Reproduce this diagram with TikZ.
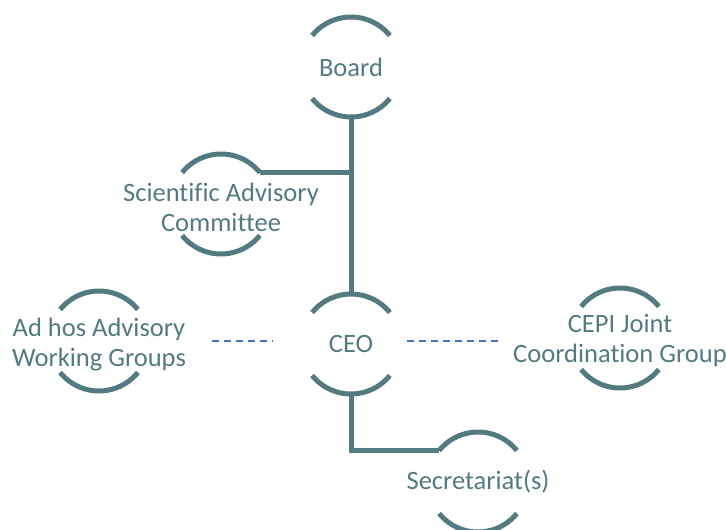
\documentclass[tikz,border=0pt]{standalone}
\usepackage{fontspec}
\setmainfont[Ligatures=CommonOff]{Carlito}
\usetikzlibrary{calc}
\definecolor{teal1}{HTML}{527A80}
\definecolor{dashblue}{HTML}{4472C4}
\tikzset{
  ring/.style={circle, minimum size=100pt, inner sep=0pt, draw=none},
  lbl/.style={text=teal1, font=\fontsize{26.5}{30}\selectfont, align=center, inner sep=0pt},
  arcline/.style={draw=teal1, line width=5pt},
  conn/.style={draw=teal1, line width=5pt},
  dashline/.style={draw=dashblue, line width=1.5pt, dash pattern=on 7pt off 5pt}
}
\newcommand\orgarcs[1]{%
  \draw[arcline] ([shift={(39:50pt)}]#1.center) arc[start angle=39, end angle=141, radius=50pt];
  \draw[arcline] ([shift={(-141:50pt)}]#1.center) arc[start angle=-141, end angle=-39, radius=50pt];
}
\begin{document}
\begin{tikzpicture}[x=1pt,y=-1pt]
\useasboundingbox (0,0) rectangle (726,530);
\node[ring] (board) at (351,67) {};
\node[ring] (sac) at (221,204) {};
\node[ring] (ceo) at (351,344) {};
\node[ring] (adh) at (99,341) {};
\node[ring] (cepi) at (620,338) {};
\node[ring] (sec) at (478,482) {};
\foreach \n in {board,sac,ceo,adh,cepi,sec}{\orgarcs{\n}}
\node[lbl] (boardt) at (board) {Board};
\node[lbl] (sact) at ([yshift=-3pt]sac.center) {Scientific Advisory\\Committee};
\node[lbl] (ceot) at (ceo) {CEO};
\node[lbl] (adht) at ([yshift=-4pt]adh.center) {Ad hos Advisory\\Working Groups};
\node[lbl] (cepit) at ([yshift=-2.5pt]cepi.center) {CEPI Joint\\Coordination Group};
\node[lbl] (sect) at (sec) {Secretariat(s)};
\draw[conn] (board.south) -- (ceo.north);
\draw[conn] (sac.39) -- (sac.39 -| board.south);
\draw[conn] (ceo.south) |- (sec.141);
\draw[dashline, shorten <=63pt, shorten >=28pt] (adh.east) -- (adh.east -| ceo.west);
\draw[dashline, shorten <=6pt, shorten >=70pt] ([yshift=3pt]ceo.east) -- ([yshift=3pt]ceo.east -| cepi.west);
\end{tikzpicture}
\end{document}
